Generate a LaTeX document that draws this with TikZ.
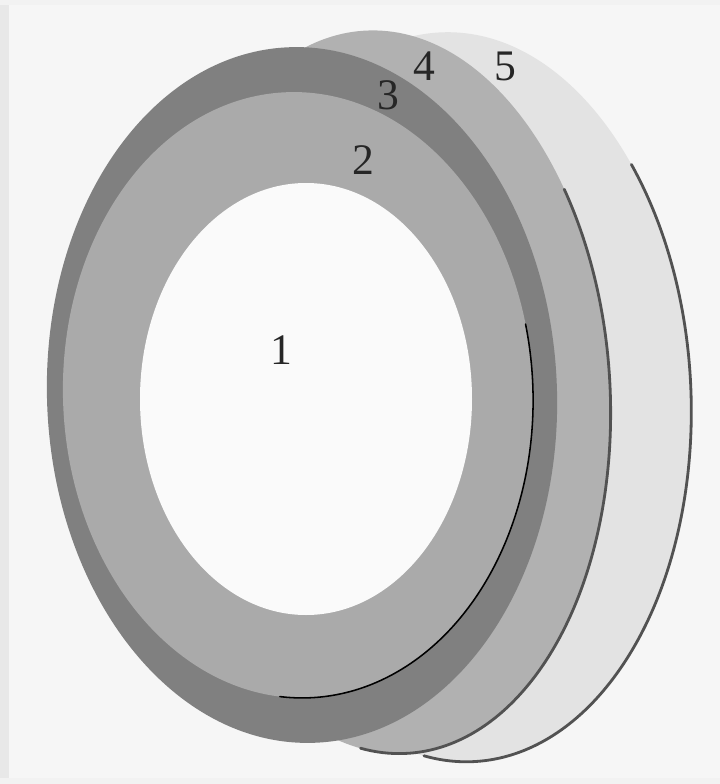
\documentclass[tikz,border=0pt]{standalone}
\usepackage{fontspec}
\setmainfont{Liberation Serif}
\begin{document}
\begin{tikzpicture}[x=0.025cm,y=0.025cm,
  lab/.style={font=\fontsize{31}{31}\selectfont, text=black!85, inner sep=0pt},
  rimshade/.style={draw=black!68, line width=2pt, line cap=round},
  rimline/.style={draw=black, line width=1.1pt, line cap=round}]
\definecolor{bg}{HTML}{F6F6F6}
\definecolor{cfive}{HTML}{E3E3E3}
\definecolor{cfour}{HTML}{B1B1B1}
\definecolor{cthree}{HTML}{808080}
\definecolor{ctwo}{HTML}{AAAAAA}
\definecolor{cone}{HTML}{FAFAFA}
\useasboundingbox (0,0) rectangle (720,-784);
\fill[bg] (0,0) rectangle (720,-784);
\fill[black!9] (0,0) rectangle (9,-784);
\fill[black!5] (0,0) rectangle (720,-5);
\fill[black!5] (0,-778) rectangle (720,-784);
% disk 5
\begin{scope}[rotate around={2.5:(457,-397)}]
  \fill[cfive] (457,-397) ellipse [x radius=234, y radius=365];
  \draw[rimshade] (457,-397) ++(38:234 and 365) arc[start angle=38, end angle=-102, x radius=234, y radius=365];
\end{scope}
% disk 4
\begin{scope}[rotate around={3.4:(386,-392)}]
  \fill[cfour] (386,-392) ellipse [x radius=224, y radius=362];
  \draw[rimshade] (386,-392) ++(32:224 and 362) arc[start angle=32, end angle=-102, x radius=224, y radius=362];
\end{scope}
% disk 3
\begin{scope}[rotate around={2:(302,-395)}]
  \fill[cthree] (302,-395) ellipse [x radius=255, y radius=348];
\end{scope}
% disk 2
\begin{scope}[rotate around={2:(298,-395)}]
  \fill[ctwo] (298,-395) ellipse [x radius=235, y radius=303];
  \draw[rimline] (298,-395) ++(12:235 and 303) arc[start angle=12, end angle=-97, x radius=235, y radius=303];
\end{scope}
% hole 1
\fill[cone] (306,-399) ellipse [x radius=166, y radius=216];
% labels
\node[lab] (l1) at (281,-350) {1};
\node[lab] (l2) at (363,-160) {2};
\node[lab] (l3) at (388,-95) {3};
\node[lab] (l4) at (424,-66) {4};
\node[lab] (l5) at (505,-66) {5};
\end{tikzpicture}
\end{document}
